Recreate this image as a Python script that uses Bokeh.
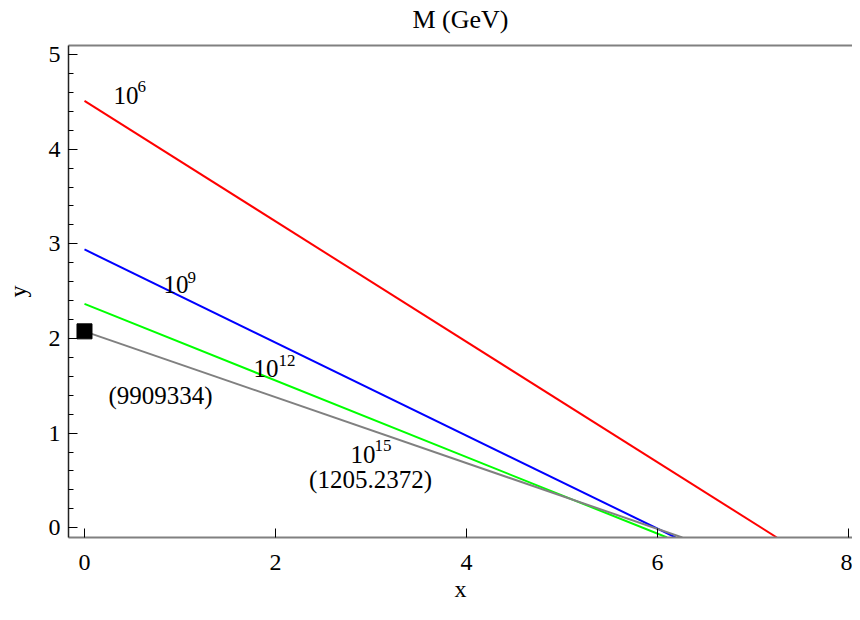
from bokeh.plotting import figure
from bokeh.models import Range1d, LinearAxis, FixedTicker, SingleIntervalTicker, ColumnDataSource
from bokeh.core.properties import value
from bokeh.embed import file_html
from bokeh.resources import INLINE

# ---- data ----
series_names = ["10^6", "10^9", "10^12", "10^15"]
line_x0 = [0.0, 0.0, 0.0, 0.0]
line_y0 = [4.51, 2.94, 2.365, 2.075]
line_x1 = [7.25, 6.19, 6.10, 6.26]
line_y1 = [-0.103, -0.103, -0.103, -0.103]
line_colors = ["#ff0000", "#0000ff", "#00ff00", "#808080"]

base_text = ["10", "10", "10", "10"]
base_x = [0.304, 0.827, 1.770, 2.785]
base_y = [4.47, 2.474, 1.586, 0.677]
exp_text = ["6", "9", "12", "15"]
exp_x = [0.555, 1.079, 2.031, 3.037]
exp_y = [4.59, 2.569, 1.691, 0.793]

note_text = ["(9909334)", "(1205.2372)"]
note_x = [0.796, 2.995]
note_y = [1.300, 0.412]

marker_x = [0.0]
marker_y = [2.075]

x_ticks = [0, 2, 4, 6, 8]

FONT = "Liberation Serif"

p = figure(width=852, height=604, output_backend="svg", toolbar_location=None,
           x_range=Range1d(-0.1675, 8.042), y_range=Range1d(-0.103, 5.095),
           min_border_left=68, min_border_right=0, min_border_top=45, min_border_bottom=67,
           x_axis_label="x", y_axis_label="y")
p.grid.visible = False
p.outline_line_color = None
p.background_fill_color = "white"
p.border_fill_color = "white"

for i in range(len(series_names)):
    src = ColumnDataSource(dict(x=[line_x0[i], line_x1[i]], y=[line_y0[i], line_y1[i]]))
    p.line("x", "y", source=src, line_color=line_colors[i], line_width=2)

p.scatter(marker_x, marker_y, marker="square", size=15, color="black")

p.text(base_x, base_y, text=base_text, text_font=value(FONT), text_font_size="25px",
       text_align="left", text_baseline="alphabetic", text_color="black", y_offset=-9)
p.text(exp_x, exp_y, text=exp_text, text_font=value(FONT), text_font_size="17px",
       text_align="left", text_baseline="alphabetic", text_color="black", y_offset=-7)
p.text(note_x, note_y, text=note_text, text_font=value(FONT), text_font_size="25px",
       text_align="center", text_baseline="alphabetic", text_color="black", y_offset=-9)

xa = p.xaxis[0]
xa.ticker = FixedTicker(ticks=x_ticks)
xa.major_tick_in = 9
xa.major_tick_out = 0
xa.minor_tick_line_color = None
xa.axis_line_color = "#808080"
xa.axis_line_width = 2
xa.major_tick_line_color = "black"
xa.major_label_text_font = FONT
xa.major_label_text_font_size = "24px"
xa.major_label_text_color = "black"
xa.major_label_standoff = 17
xa.axis_label_text_font = FONT
xa.axis_label_text_font_size = "24px"
xa.axis_label_text_font_style = "normal"
xa.axis_label_text_color = "black"
xa.axis_label_standoff = 3

ya = p.yaxis[0]
ya.ticker = SingleIntervalTicker(interval=1, num_minor_ticks=5)
ya.major_tick_in = 9
ya.major_tick_out = 0
ya.minor_tick_in = 5
ya.minor_tick_out = 0
ya.axis_line_color = "#222222"
ya.axis_line_width = 1.5
ya.major_tick_line_color = "black"
ya.minor_tick_line_color = "black"
ya.major_label_text_font = FONT
ya.major_label_text_font_size = "24px"
ya.major_label_text_color = "black"
ya.major_label_standoff = 8
ya.axis_label_text_font = FONT
ya.axis_label_text_font_size = "24px"
ya.axis_label_text_font_style = "normal"
ya.axis_label_text_color = "black"
ya.axis_label_standoff = 15

top = LinearAxis(ticker=FixedTicker(ticks=[]), axis_label="M (GeV)")
top.axis_line_color = "#808080"
top.axis_line_width = 2
top.major_tick_line_color = None
top.minor_tick_line_color = None
top.major_label_text_font_size = "0px"
top.axis_label_text_font = FONT
top.axis_label_text_font_size = "26px"
top.axis_label_text_font_style = "normal"
top.axis_label_text_color = "black"
top.axis_label_standoff = 12
p.add_layout(top, "above")

open("out.html", "w").write(file_html(p, INLINE))
